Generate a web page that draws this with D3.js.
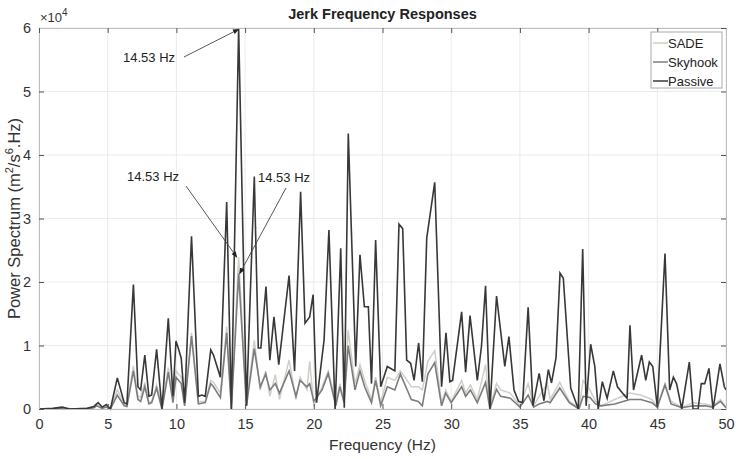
<!DOCTYPE html>
<html><head><meta charset="utf-8">
<script src="https://cdn.jsdelivr.net/npm/d3@7"></script>
<style>
html,body{margin:0;padding:0;background:#fff;}
text{font-family:"Liberation Sans",Arial,sans-serif;}
</style></head>
<body><svg id="chart" width="736" height="459"></svg>
<script>
// Values are in units of 10^4 (m^2/s^6.Hz)
const xTicks = [0,5,10,15,20,25,30,35,40,45,50];
const yTicks = [0,1,2,3,4,5,6];
const seriesNames = ["SADE","Skyhook","Passive"];

const activeFreq = [0,1,1.7,2.5,3.5,4.0,4.2,4.6,4.9,5.2,5.7,6.2,6.4,6.87,7.2,7.4,7.7,8.0,8.2,8.56,8.95,9.41,9.75,9.97,10.35,10.6,11.1,11.6,12.1,12.5,12.7,13.2,13.66,14.0,14.53,15.1,15.67,16.1,16.5,16.8,17.2,17.5,18.2,18.7,19.0,19.5,19.7,20.0,20.6,21.05,21.6,21.9,22.2,22.5,23.0,23.36,23.7,24.2,24.5,24.87,25.35,25.9,26.3,26.8,27.1,27.6,27.9,28.3,28.8,29.3,29.6,30.0,30.76,31.05,31.4,31.9,32.5,32.82,33.3,33.6,34.3,35.0,35.6,36.0,36.4,37.0,37.2,37.9,38.6,39.3,39.6,40.1,40.5,40.9,41.9,43.0,43.8,44.6,45.0,45.56,46.0,46.8,47.6,48.5,49.0,49.6,50];
const skyhook = [0,0,0.01,0,0,0.02,0.05,0.01,0.03,0,0.22,0.05,0.04,0.6,0.15,0.12,0.35,0.08,0.1,0.33,0.0,0.58,0.1,0.5,0.4,0.05,1.15,0.08,0.1,0.4,0.35,0.18,1.2,0.0,2.13,0.05,0.95,0.35,0.55,0.3,0.4,0.25,0.6,0.2,0.45,0.35,0.4,0.12,0.3,0.56,0.05,0.35,0.1,1.0,0.3,0.6,0.35,0.1,0.45,0.05,0.35,0.3,0.55,0.3,0.15,0.12,0.05,0.55,0.73,0.05,0.25,0.1,0.35,0.2,0.3,0.1,0.42,0.0,0.31,0.2,0.17,0.03,0.22,0.03,0.08,0.12,0.1,0.33,0.1,0.0,0.2,0.18,0.08,0.05,0.08,0.15,0.15,0.1,0.03,0.38,0.08,0.02,0.05,0.05,0.03,0.12,0.02];
const sade = [0,0,0.02,0,0.01,0.03,0.06,0.02,0.04,0,0.3,0.08,0.06,0.68,0.2,0.18,0.42,0.1,0.12,0.38,0.02,0.65,0.15,0.6,0.5,0.08,1.2,0.12,0.12,0.45,0.42,0.25,1.3,0.02,2.39,0.08,1.08,0.3,0.6,0.2,0.54,0.15,0.77,0.15,0.5,0.3,0.75,0.05,0.35,0.6,0.1,0.4,0.15,1.24,0.4,0.7,0.45,0.15,0.5,0.1,0.5,0.45,0.6,0.45,0.35,0.35,0.3,0.75,0.92,0.1,0.3,0.12,0.45,0.25,0.38,0.15,0.7,0.02,0.4,0.3,0.25,0.05,0.4,0.05,0.2,0.4,0.15,0.42,0.12,0.02,0.45,0.3,0.12,0.05,0.15,0.25,0.22,0.15,0.04,0.4,0.12,0.03,0.1,0.08,0.05,0.15,0.03];

const passiveFreq = [0,1,1.7,2.2,3.5,4.0,4.3,4.6,4.9,5.2,5.7,6.2,6.4,6.87,7.2,7.4,7.7,8.0,8.2,8.56,8.95,9.41,9.75,9.97,10.15,10.35,10.6,11.1,11.6,11.85,12.1,12.5,12.7,13.2,13.66,14.0,14.53,15.1,15.67,15.96,16.15,16.52,16.8,17.1,17.45,18.2,18.6,19.04,19.36,19.7,19.95,20.2,20.75,21.1,21.55,21.96,22.22,22.51,23.05,23.36,23.68,23.97,24.2,24.5,24.87,25.35,25.9,26.2,26.47,26.76,27.05,27.3,27.63,27.9,28.22,28.8,29.3,29.62,29.9,30.1,30.76,31.05,31.37,31.9,32.2,32.5,32.82,33.3,33.9,34.2,34.57,34.9,35.2,35.6,35.95,36.4,36.75,37.07,37.3,37.63,37.92,38.16,38.7,39.25,39.57,39.82,40.15,40.45,40.7,41.0,41.35,41.8,42.1,42.55,42.8,43.01,43.27,43.86,44.16,44.42,44.67,45.0,45.56,45.9,46.17,46.4,46.78,47.33,47.6,47.97,48.2,48.45,48.76,49.06,49.56,49.88,50];
const passive = [0,0.01,0.03,0,0.01,0.04,0.1,0.03,0.07,0.0,0.49,0.1,0.08,1.96,0.35,0.3,0.85,0.2,0.22,0.94,0.0,1.43,0.2,1.07,0.95,0.8,0.1,2.72,0.2,0.22,0.2,0.93,0.85,0.5,3.26,0.0,6.0,0.05,3.66,0.96,0.96,1.93,0.77,1.45,0.7,2.1,0.6,3.42,1.35,1.45,1.8,0.1,1.09,2.82,0.0,2.53,0.02,4.34,0.67,2.43,1.61,1.61,0.4,2.66,0.35,0.67,0.6,2.91,2.84,0.77,0.72,0.45,1.04,0.43,2.69,3.57,0.35,1.2,0.43,0.45,1.53,0.58,1.47,0.45,0.98,1.94,0.0,1.78,0.67,1.14,0.3,0.12,0.1,1.6,0.05,0.56,0.13,0.62,0.41,0.81,2.14,2.06,0.33,0.0,2.52,0.05,1.02,0.67,0.0,0.43,0.17,0.6,0.35,0.23,0.17,1.32,0.3,0.85,0.45,0.74,0.67,0.03,2.45,0.3,0.5,0.4,0.0,0.74,0.0,0.0,0.4,0.4,0.64,0.0,0.71,0.35,0.3];

const annotations = [
  {label:"14.53 Hz", tx:123, ty:62, sx:184, sy:57, f:14.53, v:5.98},
  {label:"14.53 Hz", tx:127, ty:181, sx:186, sy:186, f:14.4, v:2.39},
  {label:"14.53 Hz", tx:258, ty:182, sx:286, sy:188, f:14.6, v:2.13}
];

const W=736,H=459;
const m={left:39,right:10,top:28,bottom:50};
const svg=d3.select("#chart");
const x=d3.scaleLinear().domain([0,50]).range([m.left,W-m.right]);
const y=d3.scaleLinear().domain([0,6]).range([H-m.bottom,m.top]);
const x0=x.range()[0],x1=x.range()[1],y0=y.range()[0],y1=y.range()[1];

// grid
const g=svg.append("g");
g.selectAll(".vg").data(xTicks).enter().append("line")
 .attr("x1",d=>x(d)).attr("x2",d=>x(d)).attr("y1",y1).attr("y2",y0)
 .attr("stroke","#ebebeb").attr("stroke-width",1);
g.selectAll(".hg").data(yTicks).enter().append("line")
 .attr("x1",x0).attr("x2",x1).attr("y1",d=>y(d)).attr("y2",d=>y(d))
 .attr("stroke","#ebebeb").attr("stroke-width",1);

// series
const line=(fs,vs)=>d3.line().x((d,i)=>x(fs[i])).y(d=>y(d))(vs);
const colors={SADE:"#cfcfc8",Skyhook:"#7c7c7c",Passive:"#383838"};
svg.append("path").attr("d",line(activeFreq,sade)).attr("fill","none").attr("stroke",colors.SADE).attr("stroke-width",1.5);
svg.append("path").attr("d",line(activeFreq,skyhook)).attr("fill","none").attr("stroke",colors.Skyhook).attr("stroke-width",1.6);
svg.append("path").attr("d",line(passiveFreq,passive)).attr("fill","none").attr("stroke",colors.Passive).attr("stroke-width",1.6);

// axes
const ax=d3.axisBottom(x).tickValues(xTicks).tickSize(-5).tickPadding(10).tickFormat(d3.format("d"));
const ay=d3.axisLeft(y).tickValues(yTicks).tickSize(-5).tickPadding(8).tickFormat(d3.format("d"));
const axT=d3.axisTop(x).tickValues(xTicks).tickSize(-5).tickFormat("");
const ayR=d3.axisRight(y).tickValues(yTicks).tickSize(-5).tickFormat("");
function style(sel){sel.select(".domain").attr("stroke","#bdbdbd");sel.selectAll(".tick line").attr("stroke","#555");
 sel.selectAll(".tick text").attr("fill","#333").style("font-size","14.5px").style("font-family","'Liberation Sans',Arial,sans-serif");}
svg.append("g").attr("transform",`translate(0,${y0})`).call(ax).call(style);
svg.append("g").attr("transform",`translate(${x0},0)`).call(ay).call(style);
svg.append("g").attr("transform",`translate(0,${y1})`).call(axT).call(style);
svg.append("g").attr("transform",`translate(${x1},0)`).call(ayR).call(style);

// exponent
const ex=svg.append("text").attr("x",x0+1).attr("y",22).attr("fill","#333").style("font-size","13px");
ex.append("tspan").text("\u00d710");
ex.append("tspan").attr("dy",-6).style("font-size","10px").text("4");

// title + labels
svg.append("text").attr("x",(x0+x1)/2).attr("y",19).attr("text-anchor","middle")
 .style("font-size","14.5px").style("font-weight","bold").attr("fill","#222").text("Jerk Frequency Responses");
svg.append("text").attr("x",(x0+x1)/2).attr("y",450).attr("text-anchor","middle")
 .style("font-size","15.5px").attr("fill","#333").text("Frequency (Hz)");
const yl=svg.append("text").attr("transform",`translate(20,${(y0+y1)/2}) rotate(-90)`).attr("text-anchor","middle")
 .style("font-size","16.5px").attr("fill","#333");
yl.append("tspan").text("Power Spectrum (m");
yl.append("tspan").attr("dy",-7).style("font-size","11px").text("2");
yl.append("tspan").attr("dy",7).text("/s");
yl.append("tspan").attr("dy",-7).style("font-size","11px").text("6");
yl.append("tspan").attr("dy",7).text(".Hz)");

// annotations
const defs=svg.append("defs");
defs.append("marker").attr("id","ah").attr("viewBox","0 0 10 10").attr("refX",9).attr("refY",5)
 .attr("markerWidth",7).attr("markerHeight",7).attr("orient","auto")
 .append("path").attr("d","M0,1 L10,5 L0,9 Z").attr("fill","#222");
annotations.forEach(a=>{
  svg.append("line").attr("x1",a.sx).attr("y1",a.sy).attr("x2",x(a.f)).attr("y2",y(a.v))
   .attr("stroke","#444").attr("stroke-width",0.9).attr("marker-end","url(#ah)");
  svg.append("text").attr("x",a.tx).attr("y",a.ty).style("font-size","13px").attr("fill","#222").text(a.label);
});

// legend
const lg=svg.append("g").attr("transform","translate(651,32)");
lg.append("rect").attr("width",71).attr("height",56).attr("fill","#fff").attr("stroke","#aaa").attr("stroke-width",1);
seriesNames.forEach((n,i)=>{
  const yy=11+i*19;
  lg.append("line").attr("x1",2).attr("x2",17).attr("y1",yy).attr("y2",yy).attr("stroke",colors[n]).attr("stroke-width",1.5);
  lg.append("text").attr("x",17).attr("y",yy+4.5).style("font-size","13px").attr("fill","#222").text(n);
});
</script></body></html>
